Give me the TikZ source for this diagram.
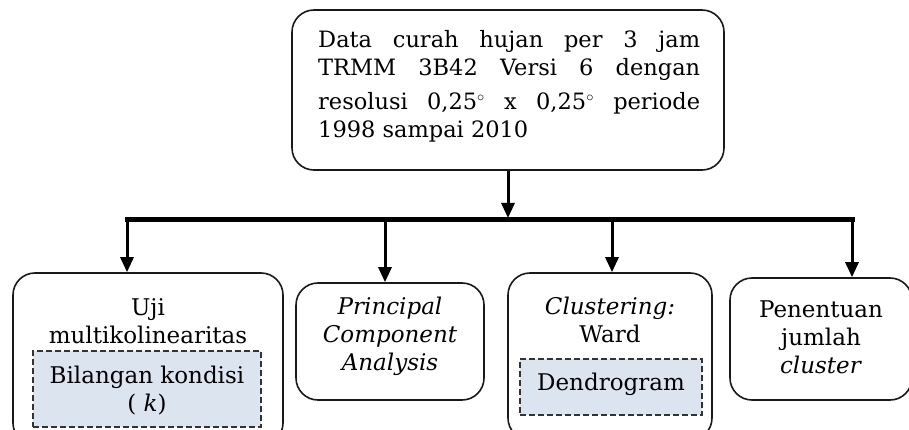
\documentclass[tikz,border=0pt]{standalone}
\usepackage{fontspec}
\setmainfont{DejaVu Serif}
\usetikzlibrary{arrows.meta}
\tikzset{
  box/.style={draw=black!90, line width=1.6pt, rounded corners=22pt, fill=white},
  dbox/.style={draw=black!80, line width=1.6pt, dash pattern=on 6pt off 3pt, fill=dashfill},
  txt/.style={align=center, inner sep=0pt, font=\fontsize{23}{28}\selectfont},
  arr/.style={line width=3pt, -{Triangle[length=15pt,width=13pt]}},
  bar/.style={line width=5pt},
}
\definecolor{dashfill}{HTML}{DCE4F0}
\begin{document}
\begin{tikzpicture}[x=1pt,y=-1pt]
\useasboundingbox (0,0) rectangle (909,430);
\clip (0,0) rectangle (909,430);
% top box
\node[box, minimum width=432pt, minimum height=160pt] (top) at (508,90) {};
\node[inner sep=0pt, anchor=north west, text width=382pt, align=justify, font=\fontsize{22.5}{28}\selectfont] (toptxt) at (318,30)
 {Data curah hujan per 3 jam\linebreak TRMM 3B42 Versi 6 dengan\vspace{6pt}\linebreak resolusi 0,25$^{\circ}$ x 0,25$^{\circ}$ periode\linebreak 1998 sampai 2010};
% bottom boxes
\node[box, minimum width=270pt, minimum height=172pt] (uji) at (148,359) {};
\node[dbox, minimum width=228pt, minimum height=76pt] (bk) at (147,389) {};
\node[box, minimum width=188pt, minimum height=117pt] (pca) at (390,341.5) {};
\node[box, minimum width=204pt, minimum height=167pt] (clu) at (610,356.5) {};
\node[dbox, minimum width=182pt, minimum height=56pt] (den) at (611,387) {};
\node[box, minimum width=182pt, minimum height=122pt] (pen) at (821,339) {};
% texts
\node[txt] (ujit) at (148,321) {Uji\\multikolinearitas};
\node[txt] (bkt) at (147,391) {Bilangan kondisi\\( \textit{k})};
\node[txt] (pcat) at (390,336) {\textit{Principal}\\\textit{Component}\\\textit{Analysis}};
\node[txt] (clut) at (610,320) {\textit{Clustering:}\\Ward};
\node[txt] (dent) at (611,384) {Dendrogram};
\node[txt] (pent) at (821,337) {Penentuan\\jumlah\\\textit{cluster}};
% connectors
\coordinate (bl) at (125,220);
\coordinate (br) at (855,220);
\coordinate (bm) at (508,218);
\coordinate (a1) at (127,220);
\coordinate (a2) at (385,220);
\coordinate (a3) at (612,220);
\coordinate (a4) at (852,220);
\draw[bar] (bl) -- (br);
\draw[arr] (top.south -| bm) -- (bm);
\draw[arr] (a1) -- (a1 |- uji.north);
\draw[arr] (a2) -- (a2 |- pca.north);
\draw[arr] (a3) -- (a3 |- clu.north);
\draw[arr] (a4) -- (a4 |- pen.north);
\end{tikzpicture}
\end{document}
